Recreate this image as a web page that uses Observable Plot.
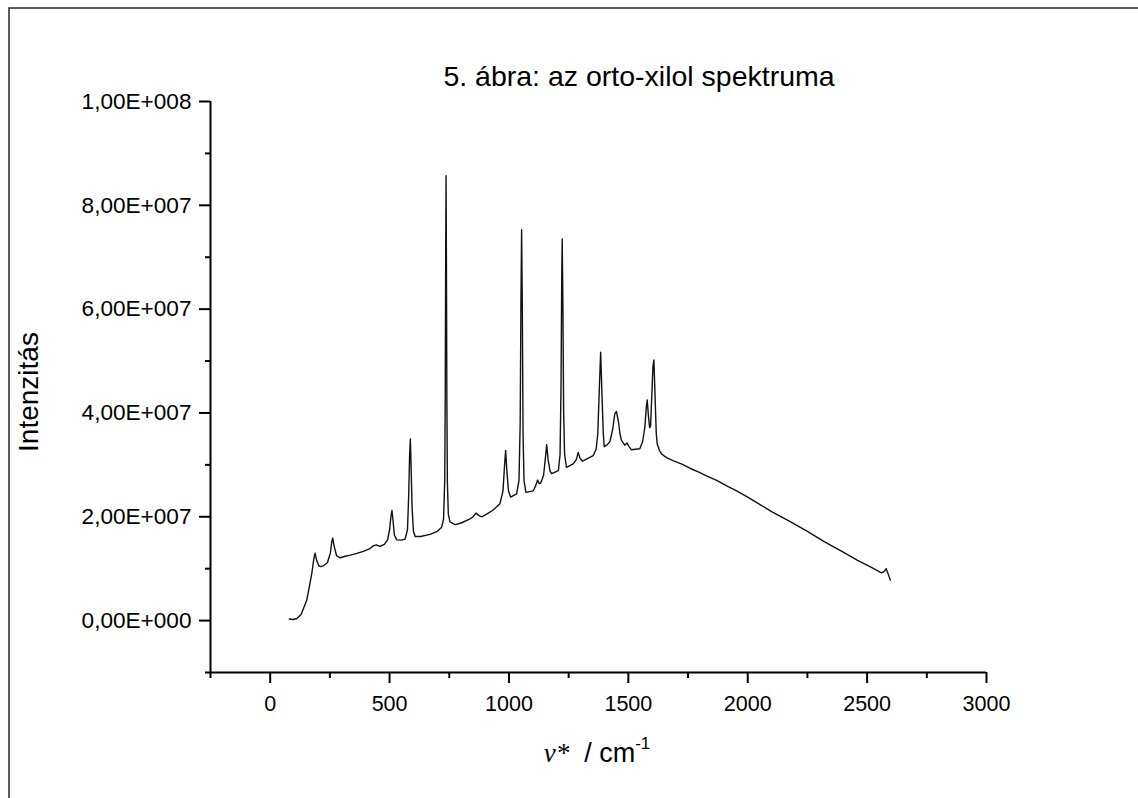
<!DOCTYPE html>
<html><head><meta charset="utf-8">
<script src="https://cdn.jsdelivr.net/npm/d3@7"></script>
<script src="https://cdn.jsdelivr.net/npm/@observablehq/plot@0.6"></script>
<style>body{margin:0;background:#fff;} svg{display:block;}</style>
</head><body><div id="chart"></div>
<script>
const wavenumber = [80,95,112,130,153,174,183,188,195,205,212,225,240,252,258,262,267,278,293,315,335,360,390,415,432,444,460,478,492,500,505,510,515,520,530,548,565,575,580,584,587,590,594,600,607,630,669,700,718,726,731,733,735,736.5,738,740,742,746,753,774,800,837,850,862,872,886,910,934,962,975,981,986,991,998,1007,1032,1042,1047,1050,1053,1056,1059,1063,1071,1102,1112,1120,1126,1133,1145,1152,1158,1164,1172,1179,1207,1214,1218,1221,1223,1226,1229,1233,1241,1269,1282,1290,1298,1308,1353,1365,1372,1378,1384,1390,1395,1399,1410,1423,1435,1443,1450,1458,1465,1471,1485,1495,1503,1513,1530,1548,1560,1569,1575,1579,1584,1589,1593,1598,1603,1607,1612,1617,1621,1630,1639,1660,1687,1722,1760,1800,1827,1870,1910,1953,2000,2050,2100,2176,2250,2320,2400,2460,2520,2560,2572,2580,2588,2597];
const intensity = [3.0e5,2.0e5,4.0e5,1.2e6,3.9e6,9.0e6,1.2e7,1.3e7,1.15e7,1.05e7,1.04e7,1.06e7,1.12e7,1.3e7,1.52e7,1.59e7,1.45e7,1.25e7,1.21e7,1.24e7,1.26e7,1.29e7,1.335e7,1.38e7,1.44e7,1.46e7,1.43e7,1.47e7,1.56e7,1.75e7,1.98e7,2.12e7,1.9e7,1.65e7,1.555e7,1.55e7,1.57e7,1.75e7,2.4e7,3.2e7,3.5e7,3.0e7,2.2e7,1.72e7,1.62e7,1.62e7,1.66e7,1.72e7,1.80e7,1.95e7,2.7e7,4.2e7,7.0e7,8.57e7,7.0e7,4.2e7,2.7e7,2.05e7,1.9e7,1.85e7,1.88e7,1.96e7,2.0e7,2.07e7,2.03e7,2.0e7,2.06e7,2.13e7,2.25e7,2.5e7,2.95e7,3.28e7,2.9e7,2.5e7,2.38e7,2.44e7,2.7e7,3.8e7,6.0e7,7.53e7,6.0e7,3.6e7,2.7e7,2.47e7,2.5e7,2.6e7,2.71e7,2.64e7,2.65e7,2.8e7,3.1e7,3.39e7,3.1e7,2.88e7,2.83e7,2.89e7,3.2e7,4.5e7,6.6e7,7.35e7,6.0e7,4.0e7,3.2e7,2.95e7,3.02e7,3.1e7,3.24e7,3.12e7,3.07e7,3.18e7,3.3e7,3.6e7,4.4e7,5.17e7,4.3e7,3.6e7,3.35e7,3.38e7,3.45e7,3.7e7,3.98e7,4.03e7,3.85e7,3.6e7,3.47e7,3.38e7,3.42e7,3.35e7,3.29e7,3.3e7,3.31e7,3.45e7,3.72e7,4.1e7,4.25e7,3.95e7,3.72e7,3.74e7,4.3e7,4.9e7,5.02e7,4.3e7,3.6e7,3.40e7,3.28e7,3.21e7,3.14e7,3.08e7,3.02e7,2.93e7,2.85e7,2.79e7,2.70e7,2.6e7,2.5e7,2.38e7,2.24e7,2.10e7,1.91e7,1.72e7,1.52e7,1.32e7,1.16e7,1.02e7,0.92e7,0.95e7,1.0e7,0.9e7,0.78e7];
const xMajorTicks = [0,500,1000,1500,2000,2500,3000];
const xMinorTicks = [-250,250,750,1250,1750,2250,2750];
const yMajorTicks = [0,2e7,4e7,6e7,8e7,1e8];
const yMinorTicks = [-1e7,1e7,3e7,5e7,7e7,9e7];
const yTickLabels = ["0,00E+000","2,00E+007","4,00E+007","6,00E+007","8,00E+007","1,00E+008"];
const titleText = "5. ábra: az orto-xilol spektruma";
const yLabelText = "Intenzitás";

const data = wavenumber.map((x, i) => ({x, y: intensity[i]}));
const sans = "'Liberation Sans', Arial, sans-serif";

const chart = Plot.plot({
  width: 1138, height: 798,
  marginLeft: 210, marginRight: 152, marginTop: 101, marginBottom: 126,
  style: {fontFamily: sans, fontSize: "21.5px", background: "#fff", color: "#000", overflow: "visible"},
  x: {domain: [-250, 3000]},
  y: {domain: [-1e7, 1e8]},
  marks: [
    Plot.ruleY([-1e7], {strokeWidth: 2, stroke: "#000"}),
    Plot.ruleX([-250], {strokeWidth: 2, stroke: "#000"}),
    Plot.axisX(xMajorTicks, {tickSize: 11, tickPadding: 12, strokeWidth: 2, tickFormat: d => String(d), label: null}),
    Plot.axisX(xMinorTicks, {tickSize: 6, strokeWidth: 2, tickFormat: () => "", label: null}),
    Plot.axisY(yMajorTicks, {tickSize: 11, tickPadding: 8, strokeWidth: 2, tickFormat: d => yTickLabels[yMajorTicks.indexOf(d)], label: null}),
    Plot.axisY(yMinorTicks, {tickSize: 5, strokeWidth: 2, tickFormat: () => "", label: null}),
    Plot.line(data, {x: "x", y: "y", stroke: "#111", strokeWidth: 1.4})
  ]
});

const svg = d3.select(chart);
svg.selectAll('[aria-label="x-axis tick label"] text').style("font-size", "21.5px");
svg.selectAll('[aria-label="y-axis tick label"] text').style("font-size", "22.6px");
svg.append("rect").attr("x", 9).attr("y", 8).attr("width", 1200).attr("height", 900)
  .attr("fill", "none").attr("stroke", "#333").attr("stroke-width", 1.6);
svg.append("text").attr("x", 639).attr("y", 86).attr("text-anchor", "middle")
  .style("font-family", sans).style("font-size", "28.5px").attr("fill", "#000").text(titleText);
svg.append("text").attr("transform", "translate(38,392) rotate(-90)").attr("text-anchor", "middle")
  .style("font-family", sans).style("font-size", "28px").attr("fill", "#000").text(yLabelText);
const xl = svg.append("text").attr("x", 597).attr("y", 762).attr("text-anchor", "middle")
  .style("font-family", sans).style("font-size", "27px").attr("fill", "#000");
xl.append("tspan").style("font-family", "'Liberation Serif', 'Times New Roman', serif").style("font-style", "italic").text("ν*");
xl.append("tspan").text("  / cm");
xl.append("tspan").attr("dy", -13).style("font-size", "17px").text("-1");

document.getElementById("chart").appendChild(chart);
</script>
</body></html>
